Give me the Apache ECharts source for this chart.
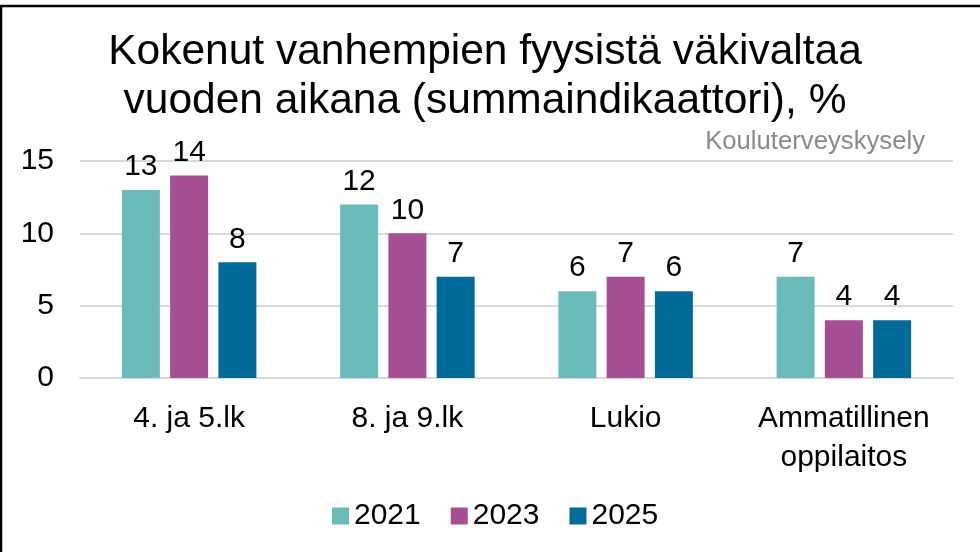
<!DOCTYPE html>
<html>
<head>
<meta charset="utf-8">
<script src="https://cdn.jsdelivr.net/npm/echarts@6/dist/echarts.min.js"></script>
<style>
  html, body { margin: 0; padding: 0; background: #fff; }
  #chart { width: 980px; height: 552px; }
</style>
</head>
<body>
<div id="chart"></div>
<script>
// School groups and yearly shares (%)
const categories = ['4. ja 5.lk', '8. ja 9.lk', 'Lukio', 'Ammatillinen\noppilaitos'];
const years = ['2021', '2023', '2025'];
const values2021 = [13, 12, 6, 7];
const values2023 = [14, 10, 7, 4];
const values2025 = [8, 7, 6, 4];
const yTicks = [0, 5, 10, 15];

const colors = ['#6cbbbb', '#a64e93', '#006b99'];
const font = '"Liberation Sans", Arial, sans-serif';

const chart = echarts.init(document.getElementById('chart'), null, { renderer: 'canvas' });

function barSeries(name, data, color) {
  return {
    name: name,
    type: 'bar',
    data: data,
    barWidth: 38,
    barGap: '27%',
    itemStyle: { color: color },
    label: {
      show: true,
      position: 'top',
      distance: 8,
      color: '#000',
      fontFamily: font,
      fontSize: 30
    },
    emphasis: { disabled: true }
  };
}

chart.setOption({
  animation: false,
  backgroundColor: '#fff',
  title: {
    text: 'Kokenut vanhempien fyysistä väkivaltaa\nvuoden aikana (summaindikaattori), %',
    left: 485,
    textAlign: 'center',
    top: 28,
    padding: 0,
    textStyle: {
      fontFamily: font,
      fontSize: 42.5,
      fontWeight: 'normal',
      color: '#000',
      lineHeight: 49
    }
  },
  legend: {
    data: years,
    left: 327,
    top: 496,
    icon: 'rect',
    itemWidth: 17,
    itemHeight: 17,
    itemGap: 30,
    textStyle: { fontFamily: font, fontSize: 30, color: '#000' }
  },
  grid: { left: 80, right: 27, top: 161, bottom: 174, containLabel: false },
  xAxis: {
    type: 'category',
    data: categories,
    axisLine: { show: true, lineStyle: { color: '#d9d9d9', width: 2 } },
    axisTick: { show: false },
    axisLabel: {
      color: '#000',
      fontFamily: font,
      fontSize: 30,
      lineHeight: 39,
      margin: 21,
      interval: 0
    }
  },
  yAxis: {
    type: 'value',
    min: yTicks[0],
    max: yTicks[yTicks.length - 1],
    interval: 5,
    axisLine: { show: false },
    axisTick: { show: false },
    axisLabel: {
      color: '#000',
      fontFamily: font,
      fontSize: 30,
      margin: 26
    },
    splitLine: { lineStyle: { color: '#d9d9d9', width: 2 } }
  },
  series: [
    barSeries(years[0], values2021, colors[0]),
    barSeries(years[1], values2023, colors[1]),
    barSeries(years[2], values2025, colors[2])
  ],
  graphic: [
    {
      type: 'text',
      right: 55,
      top: 129,
      style: {
        text: 'Kouluterveyskysely',
        fontFamily: font,
        fontSize: 25.7,
        fill: '#8a8a8a'
      }
    },
    {
      type: 'line',
      shape: { x1: 0, y1: 6, x2: 980, y2: 6 },
      style: { stroke: '#000', lineWidth: 2.5 }
    },
    {
      type: 'line',
      shape: { x1: 1, y1: 6, x2: 1, y2: 552 },
      style: { stroke: '#000', lineWidth: 2.5 }
    }
  ]
});
</script>
</body>
</html>
